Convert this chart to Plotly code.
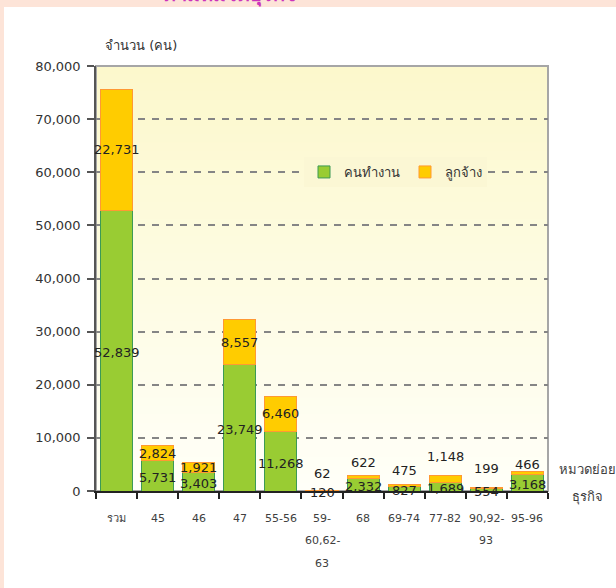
import plotly.graph_objects as go

# ---------------- data ----------------
categories = ["รวม", "45", "46", "47", "55-56", "59-60,62-63", "68", "69-74", "77-82", "90,92-93", "95-96"]
tick_labels = ["รวม", "45", "46", "47", "55-56", "59-<br>60,62-<br>63", "68", "69-74", "77-82", "90,92-<br>93", "95-96"]
workers = [52839, 5731, 3403, 23749, 11268, 120, 2332, 827, 1689, 554, 3168]      # คนทำงาน
employees = [22731, 2824, 1921, 8557, 6460, 62, 622, 475, 1148, 199, 466]        # ลูกจ้าง
y_tick_values = list(range(0, 80001, 10000))

# ---------------- style ----------------
W, H = 616, 588
L, R, T, B = 96, 68, 66, 97
PW, PH = W - L - R, H - T - B
FONT = "DejaVu Sans, Verdana, Tahoma, sans-serif"
TXT = "#333333"
employee_label_lift = [0, 0, 0, 0, 0, 17, 14, 15, 22, 19, 8]   # px lift for crowded labels


def px_x(p):
    return (p - L) / PW


def px_y(p):
    return (H - B - p) / PH


fig = go.Figure()
fig.add_bar(name="คนทำงาน", x=categories, y=workers,
            marker=dict(color="#99CC33", line=dict(color="#3C9A55", width=1)),
            hoverinfo="skip")
fig.add_bar(name="ลูกจ้าง", x=categories, y=employees,
            marker=dict(color="#FFCC00", line=dict(color="#FF9933", width=1)),
            hoverinfo="skip")

annotations = []
# category axis positions are addressed by category index
for idx, (w, e, lift) in enumerate(zip(workers, employees, employee_label_lift)):
    annotations.append(dict(x=idx, y=w / 2, xref="x", yref="y", text=f"{w:,}", showarrow=False,
                            xanchor="center", yshift=-2, font=dict(size=13, color="#222222", family=FONT)))
    annotations.append(dict(x=idx, y=w + e / 2, xref="x", yref="y", text=f"{e:,}", showarrow=False,
                            xanchor="center", yshift=lift, font=dict(size=13, color="#222222", family=FONT)))

for idx, lab in enumerate(tick_labels):
    for i, line in enumerate(lab.split("<br>")):
        annotations.append(dict(x=idx, y=0, xref="x", yref="paper", text=line, showarrow=False,
                                xanchor="center", yanchor="middle", yshift=-(27 + 22.5 * i),
                                font=dict(size=11, color="#404040", family=FONT)))

annotations.append(dict(x=px_x(141), y=px_y(46), xref="paper", yref="paper", text="จำนวน (คน)",
                        showarrow=False, xanchor="center", yanchor="middle",
                        font=dict(size=13, color=TXT, family=FONT)))
annotations.append(dict(x=px_x(587), y=px_y(469), xref="paper", yref="paper", text="หมวดย่อย",
                        showarrow=False, xanchor="center", yanchor="middle",
                        font=dict(size=13, color="#404040", family=FONT)))
annotations.append(dict(x=px_x(587), y=px_y(497), xref="paper", yref="paper", text="ธุรกิจ",
                        showarrow=False, xanchor="center", yanchor="middle",
                        font=dict(size=13, color="#404040", family=FONT)))
annotations.append(dict(x=px_x(230), y=px_y(9), xref="paper", yref="paper", text="<b>ตามหมวดธุรกิจ</b>",
                        showarrow=False, xanchor="center", yanchor="bottom",
                        font=dict(size=20, color="#CC33BB", family=FONT)))

shapes = []
# peach frame (top + left)
shapes.append(dict(type="rect", xref="paper", yref="paper", x0=px_x(-5), x1=px_x(W + 5),
                   y0=px_y(7), y1=px_y(-5), fillcolor="#FDE4D8", line=dict(width=0), layer="below"))
shapes.append(dict(type="rect", xref="paper", yref="paper", x0=px_x(-5), x1=px_x(4),
                   y0=px_y(H + 5), y1=px_y(-5), fillcolor="#FDE4D8", line=dict(width=0), layer="below"))
# plot background gradient
top_c = (252, 248, 204)
bot_c = (255, 255, 248)
N = 50
for i in range(N):
    t = i / (N - 1)
    col = tuple(round(top_c[k] + (bot_c[k] - top_c[k]) * t) for k in range(3))
    shapes.append(dict(type="rect", xref="paper", yref="paper", x0=0, x1=1,
                       y0=1 - (i + 1) / N - 0.002, y1=1 - i / N,
                       fillcolor="rgb(%d,%d,%d)" % col, line=dict(width=0), layer="below"))
shapes.append(dict(type="rect", xref="paper", yref="paper", x0=0, x1=1, y0=0, y1=1,
                   fillcolor="rgba(0,0,0,0)", line=dict(color="#A6A6A6", width=2), layer="below"))

fig.update_layout(
    width=W, height=H,
    margin=dict(l=L, r=R, t=T, b=B, pad=0),
    paper_bgcolor="white", plot_bgcolor="rgba(0,0,0,0)",
    barmode="stack", bargap=0.22,
    font=dict(family=FONT, color=TXT, size=13),
    showlegend=True,
    legend=dict(orientation="h", x=px_x(304), y=px_y(172), xanchor="left", yanchor="middle",
                bgcolor="#FBF7D4", font=dict(size=13, color=TXT, family=FONT), itemwidth=30,
                traceorder="normal"),
    annotations=annotations, shapes=shapes,
    xaxis=dict(type="category", categoryorder="array", categoryarray=categories,
               range=[-0.5, len(categories) - 0.5],
               showticklabels=False, ticks="outside", tickson="boundaries", ticklen=6,
               tickcolor="#222222", tickwidth=1.5, showline=True, linecolor="#222222", linewidth=1.5,
               showgrid=False, zeroline=False, fixedrange=True),
    yaxis=dict(range=[0, 80000], tickvals=y_tick_values, tickformat=",", ticks="outside", ticklen=7,
               tickcolor="#555555", tickwidth=1.5, showline=True, linecolor="#555555", linewidth=1.5,
               showgrid=True, gridcolor="#858585", gridwidth=1.5, griddash="7px,7px",
               zeroline=False, ticklabelstandoff=4, tickfont=dict(size=13, color=TXT, family=FONT),
               fixedrange=True),
)

fig.write_html("out.html", config={"displayModeBar": False},
               post_script="document.body.style.margin='0';")
